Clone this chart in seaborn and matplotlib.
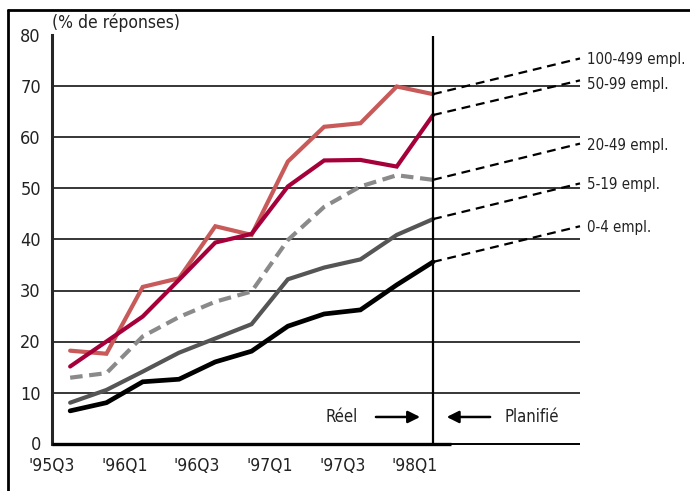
import numpy as np
import pandas as pd
import seaborn as sns
import matplotlib.pyplot as plt
from matplotlib.lines import Line2D

# Values (% de réponses), 11 quarters
quarters = ["95Q3", "95Q4", "96Q1", "96Q2", "96Q3", "96Q4",
            "97Q1", "97Q2", "97Q3", "97Q4", "98Q1"]
emp_0_4 = [6.4, 8.0, 12.1, 12.6, 16.0, 18.1, 23.0, 25.4, 26.2, 31.1, 35.6]
emp_5_19 = [8.0, 10.5, 14.1, 17.8, 20.6, 23.4, 32.2, 34.5, 36.1, 40.9, 44.0]
emp_20_49 = [12.9, 13.8, 21.0, 24.8, 27.8, 29.8, 39.9, 46.4, 50.4, 52.6, 51.7]
emp_50_99 = [15.1, 20.0, 24.9, 32.1, 39.4, 41.1, 50.4, 55.5, 55.6, 54.3, 64.4]
emp_100_499 = [18.2, 17.6, 30.7, 32.4, 42.6, 40.9, 55.3, 62.1, 62.8, 70.0, 68.5]

# planned values (end of the dashed projections)
series_names = ["0-4 empl.", "5-19 empl.", "20-49 empl.", "50-99 empl.", "100-499 empl."]
planned = [42.6, 51.0, 58.8, 71.2, 75.5]
label_y = [42.3, 50.7, 58.5, 70.3, 75.2]

tick_labels = ["'95Q3", "'96Q1", "'96Q3", "'97Q1", "'97Q3", "'98Q1"]

sns.set_style("white")
plt.rcParams['font.family'] = ['DejaVu Sans']
plt.rcParams['font.stretch'] = 'condensed'
plt.rcParams['text.color'] = '#222222'
plt.rcParams['xtick.color'] = '#222222'
plt.rcParams['ytick.color'] = '#222222'

idx = np.arange(len(quarters))
df = pd.DataFrame({"i": idx, "0-4 empl.": emp_0_4, "5-19 empl.": emp_5_19,
                   "20-49 empl.": emp_20_49, "50-99 empl.": emp_50_99,
                   "100-499 empl.": emp_100_499})

fig = plt.figure(figsize=(6.9, 4.91), dpi=100)
ax = fig.add_axes([52 / 690, 1 - 443.5 / 491, 528 / 690, 408 / 491])

x_end = 14.05
ax.set_xlim(-0.5, x_end)
ax.set_ylim(0, 80)

# grid lines
for v in range(10, 81, 10):
    ax.axhline(v, color="black", lw=1.1, zorder=1)

styles = {
    "100-499 empl.": dict(color="#C85A5A", lw=3.0),
    "50-99 empl.": dict(color="#A6003A", lw=3.0),
    "20-49 empl.": dict(color="#8A8A8A", lw=3.0, dashes=(3.0, 1.6)),
    "5-19 empl.": dict(color="#555555", lw=3.0),
    "0-4 empl.": dict(color="black", lw=3.4),
}
for name in ["100-499 empl.", "50-99 empl.", "20-49 empl.", "5-19 empl.", "0-4 empl."]:
    st = styles[name]
    sns.lineplot(data=df, x="i", y=name, ax=ax, color=st["color"],
                 lw=st["lw"], zorder=3)
    if "dashes" in st:
        ax.lines[-1].set_dashes(st["dashes"])
    ax.lines[-1].set_solid_joinstyle("miter")

# dashed projections + labels
last_vals = [emp_0_4[-1], emp_5_19[-1], emp_20_49[-1], emp_50_99[-1], emp_100_499[-1]]
for name, v0, v1, ly in zip(series_names, last_vals, planned, label_y):
    proj = pd.DataFrame({"i": [idx[-1], x_end], "v": [v0, v1]})
    sns.lineplot(data=proj, x="i", y="v", ax=ax, color="black", lw=1.6, zorder=4)
    ax.lines[-1].set_dashes((4, 2.6))
    ax.lines[-1].set_clip_on(False)
    ax.annotate(name, xy=(x_end, ly), xytext=(5, 0), textcoords="offset points",
                ha="left", va="center", fontsize=10.8, annotation_clip=False)

# boundary actual / planned
ax.axvline(idx[-1], color="black", lw=1.6, zorder=5)

# axes
for s in ["top", "right", "bottom"]:
    ax.spines[s].set_visible(False)
ax.spines["left"].set_linewidth(2.2)
ax.hlines(0, -0.5, 10.5, color="black", lw=2.4, zorder=6, clip_on=False)
ax.hlines(0, 10.5, x_end, color="black", lw=1.4, zorder=6, clip_on=False)

ax.set_xticks(np.arange(-0.5, 10.0, 1.0))
ax.set_xticklabels([tick_labels[k // 2] if k % 2 == 0 else "" for k in range(11)])
ax.tick_params(axis="x", direction="in", length=6.5, width=1.6, pad=10, labelsize=12.5)
ax.set_yticks(range(0, 81, 10))
ax.tick_params(axis="y", length=0, pad=8, labelsize=13)
ax.set_xlabel("")
ax.set_ylabel("")

ax.text(-0.5, 80.6, "(% de réponses)", ha="left", va="bottom", fontsize=12.5)

# Réel / Planifié arrows
ax.text(7.93, 5.2, "Réel", ha="right", va="center", fontsize=12)
ax.annotate("", xy=(9.72, 5.2), xytext=(8.35, 5.2),
            arrowprops=dict(arrowstyle="-|>", lw=1.8, color="black", mutation_scale=18))
ax.annotate("", xy=(10.3, 5.2), xytext=(11.65, 5.2),
            arrowprops=dict(arrowstyle="-|>", lw=1.8, color="black", mutation_scale=18))
ax.text(11.98, 5.2, "Planifié", ha="left", va="center", fontsize=12)

# outer frame (top and left)
fig.add_artist(Line2D([8 / 690, 1], [1 - 10 / 491, 1 - 10 / 491], color="black", lw=2))
fig.add_artist(Line2D([8 / 690, 8 / 690], [0, 1 - 10 / 491], color="black", lw=2))

fig.savefig("out.png", dpi=100)
